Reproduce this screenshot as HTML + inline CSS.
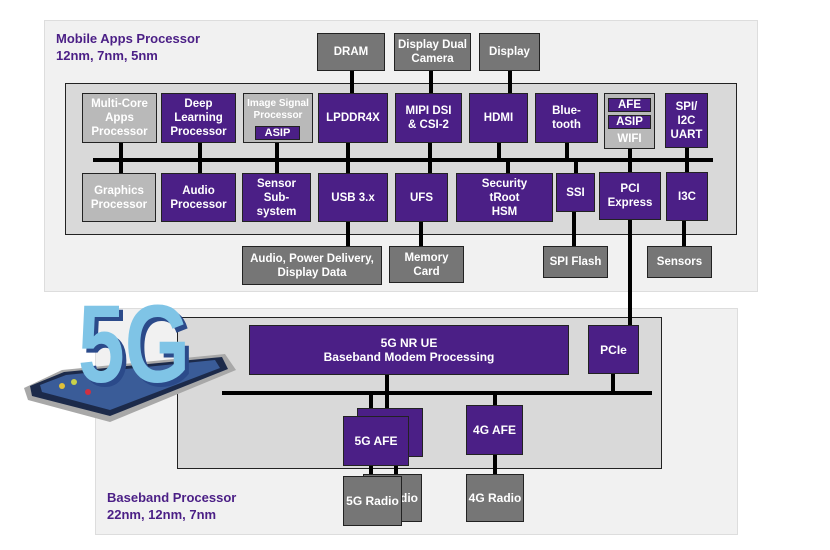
<!DOCTYPE html>
<html><head><meta charset="utf-8"><style>
body{margin:0;width:830px;height:550px;background:#fff;position:relative;overflow:hidden;font-family:"Liberation Sans",sans-serif;}
div.a{position:absolute;box-sizing:border-box;}
.p{background:#4b1f86;border:1.5px solid #222;color:#fff;font-weight:bold;font-size:11.5px;display:flex;align-items:center;justify-content:center;text-align:center;line-height:14px;}
.g{background:#767676;border:1.5px solid #222;color:#fff;font-weight:bold;font-size:11.5px;display:flex;align-items:center;justify-content:center;text-align:center;line-height:14px;}
.l{background:#b9b9b9;border:1.5px solid #222;color:#fff;font-weight:bold;font-size:11.5px;display:flex;align-items:center;justify-content:center;text-align:center;line-height:14px;}
.k{background:#000;}
.t{color:#4b1f86;font-weight:bold;font-size:13px;line-height:17px;}
.n{font-family:"Liberation Sans Narrow","Liberation Sans",sans-serif;}
</style></head><body>
<div class="a" style="left:44px;top:20px;width:714px;height:272px;background:#f1f1f1;border:1px solid #ddd;"></div>
<div class="a t" style="left:56px;top:30px;">Mobile Apps Processor<br>12nm, 7nm, 5nm</div>
<div class="a" style="left:65px;top:83px;width:672px;height:152px;background:#d9d9d9;border:1.5px solid #222;"></div>
<div class="a" style="left:95px;top:308px;width:643px;height:227px;background:#f1f1f1;border:1px solid #ddd;"></div>
<div class="a" style="left:177px;top:317px;width:485px;height:152px;background:#d9d9d9;border:1.5px solid #222;"></div>
<div class="a t n" style="left:107px;top:489px;">Baseband Processor<br>22nm, 12nm, 7nm</div>

<div class="a k" style="left:93px;top:158px;width:620px;height:4px;"></div>
<div class="a k" style="left:350px;top:71px;width:4px;height:22px;"></div>
<div class="a k" style="left:429px;top:71px;width:4px;height:22px;"></div>
<div class="a k" style="left:508px;top:71px;width:4px;height:22px;"></div>
<div class="a k" style="left:119px;top:143px;width:4px;height:30px;"></div>
<div class="a k" style="left:198px;top:143px;width:4px;height:30px;"></div>
<div class="a k" style="left:275px;top:143px;width:4px;height:30px;"></div>
<div class="a k" style="left:346px;top:143px;width:4px;height:103px;"></div>
<div class="a k" style="left:428px;top:143px;width:4px;height:30px;"></div>
<div class="a k" style="left:497px;top:143px;width:4px;height:17px;"></div>
<div class="a k" style="left:506px;top:160px;width:4px;height:14px;"></div>
<div class="a k" style="left:565px;top:143px;width:4px;height:17px;"></div>
<div class="a k" style="left:574px;top:160px;width:4px;height:14px;"></div>
<div class="a k" style="left:628px;top:149px;width:4px;height:24px;"></div>
<div class="a k" style="left:685px;top:148px;width:4px;height:25px;"></div>
<div class="a k" style="left:419px;top:222px;width:4px;height:24px;"></div>
<div class="a k" style="left:572px;top:212px;width:4px;height:34px;"></div>
<div class="a k" style="left:628px;top:220px;width:4px;height:106px;"></div>
<div class="a k" style="left:682px;top:221px;width:4px;height:25px;"></div>

<div class="a g" style="left:317px;top:33px;width:68px;height:38px;">DRAM</div>
<div class="a g" style="left:394px;top:33px;width:77px;height:38px;">Display Dual<br>Camera</div>
<div class="a g" style="left:479px;top:33px;width:61px;height:38px;">Display</div>

<div class="a l" style="left:82px;top:93px;width:75px;height:50px;">Multi-Core<br>Apps<br>Processor</div>
<div class="a p" style="left:161px;top:93px;width:75px;height:50px;">Deep<br>Learning<br>Processor</div>
<div class="a l" style="left:243px;top:93px;width:70px;height:50px;font-size:10px;line-height:12px;align-items:flex-start;padding-top:4px;">Image Signal<br>Processor</div>
<div class="a p" style="left:255px;top:126px;width:45px;height:14px;font-size:11px;">ASIP</div>
<div class="a p" style="left:318px;top:93px;width:70px;height:50px;">LPDDR4X</div>
<div class="a p" style="left:395px;top:93px;width:67px;height:50px;">MIPI DSI<br>&amp; CSI-2</div>
<div class="a p" style="left:469px;top:93px;width:59px;height:50px;">HDMI</div>
<div class="a p" style="left:535px;top:93px;width:63px;height:50px;">Blue-<br>tooth</div>
<div class="a l" style="left:604px;top:93px;width:51px;height:56px;align-items:flex-end;padding-bottom:2px;">WIFI</div>
<div class="a p" style="left:608px;top:98px;width:43px;height:14px;">AFE</div>
<div class="a p" style="left:608px;top:115px;width:43px;height:14px;">ASIP</div>
<div class="a p" style="left:665px;top:93px;width:43px;height:55px;">SPI/<br>I2C<br>UART</div>

<div class="a l" style="left:82px;top:173px;width:74px;height:49px;">Graphics<br>Processor</div>
<div class="a p" style="left:161px;top:173px;width:75px;height:49px;">Audio<br>Processor</div>
<div class="a p" style="left:242px;top:173px;width:69px;height:49px;">Sensor<br>Sub-<br>system</div>
<div class="a p" style="left:318px;top:173px;width:70px;height:49px;">USB 3.x</div>
<div class="a p" style="left:395px;top:173px;width:53px;height:49px;">UFS</div>
<div class="a p" style="left:456px;top:173px;width:97px;height:49px;">Security<br>tRoot<br>HSM</div>
<div class="a p" style="left:556px;top:173px;width:39px;height:39px;">SSI</div>
<div class="a p" style="left:599px;top:172px;width:62px;height:48px;">PCI<br>Express</div>
<div class="a p" style="left:666px;top:172px;width:42px;height:49px;">I3C</div>

<div class="a g" style="left:242px;top:246px;width:140px;height:39px;">Audio, Power Delivery,<br>Display Data</div>
<div class="a g" style="left:389px;top:246px;width:75px;height:37px;">Memory<br>Card</div>
<div class="a g" style="left:543px;top:246px;width:65px;height:32px;">SPI Flash</div>
<div class="a g" style="left:647px;top:246px;width:65px;height:32px;">Sensors</div>

<div class="a k" style="left:222px;top:391px;width:430px;height:4px;"></div>
<div class="a k" style="left:385px;top:375px;width:4px;height:33px;"></div>
<div class="a k" style="left:369px;top:393px;width:4px;height:24px;"></div>
<div class="a k" style="left:493px;top:393px;width:4px;height:12px;"></div>
<div class="a k" style="left:611px;top:374px;width:4px;height:18px;"></div>
<div class="a k" style="left:369px;top:466px;width:4px;height:10px;"></div>
<div class="a k" style="left:394px;top:466px;width:4px;height:10px;"></div>
<div class="a k" style="left:493px;top:455px;width:4px;height:19px;"></div>

<div class="a p n" style="left:249px;top:325px;width:320px;height:50px;font-size:12px;">5G NR UE<br>Baseband Modem Processing</div>
<div class="a p n" style="left:588px;top:325px;width:51px;height:49px;font-size:12px;">PCIe</div>
<div class="a p" style="left:357px;top:408px;width:66px;height:49px;"></div>
<div class="a p n" style="left:343px;top:416px;width:66px;height:50px;font-size:12px;">5G AFE</div>
<div class="a p n" style="left:466px;top:405px;width:57px;height:50px;font-size:12px;">4G AFE</div>
<div class="a g n" style="left:363px;top:474px;width:59px;height:48px;justify-content:flex-end;padding-right:3px;font-size:12px;">dio</div>
<div class="a g n" style="left:343px;top:476px;width:59px;height:50px;font-size:12px;">5G Radio</div>
<div class="a g n" style="left:466px;top:474px;width:58px;height:48px;font-size:12px;">4G Radio</div>

<svg class="a" style="position:absolute;left:0;top:290px;" width="250" height="140">
<polygon points="24,98 62,80 225,64 236,80 110,132 28,110" fill="#a8a8a8"/>
<polygon points="30,96 64,82 222,67 228,79 110,126 32,106" fill="#1c2a4a"/>
<polygon points="40,95 66,85 215,70 220,78 110,120 42,102" fill="#3a5c98"/>
<circle cx="62" cy="96" r="3" fill="#e0c03a"/><circle cx="74" cy="92" r="3" fill="#c8d24a"/><circle cx="88" cy="102" r="3" fill="#d03040"/>
<text x="82" y="96" font-family="Liberation Sans,sans-serif" font-weight="bold" font-size="110" fill="#2b4a8a" textLength="112" lengthAdjust="spacingAndGlyphs">5G</text>
<text x="78" y="92" font-family="Liberation Sans,sans-serif" font-weight="bold" font-size="110" fill="#7fc4e6" textLength="112" lengthAdjust="spacingAndGlyphs">5G</text>
</svg>
</body></html>
